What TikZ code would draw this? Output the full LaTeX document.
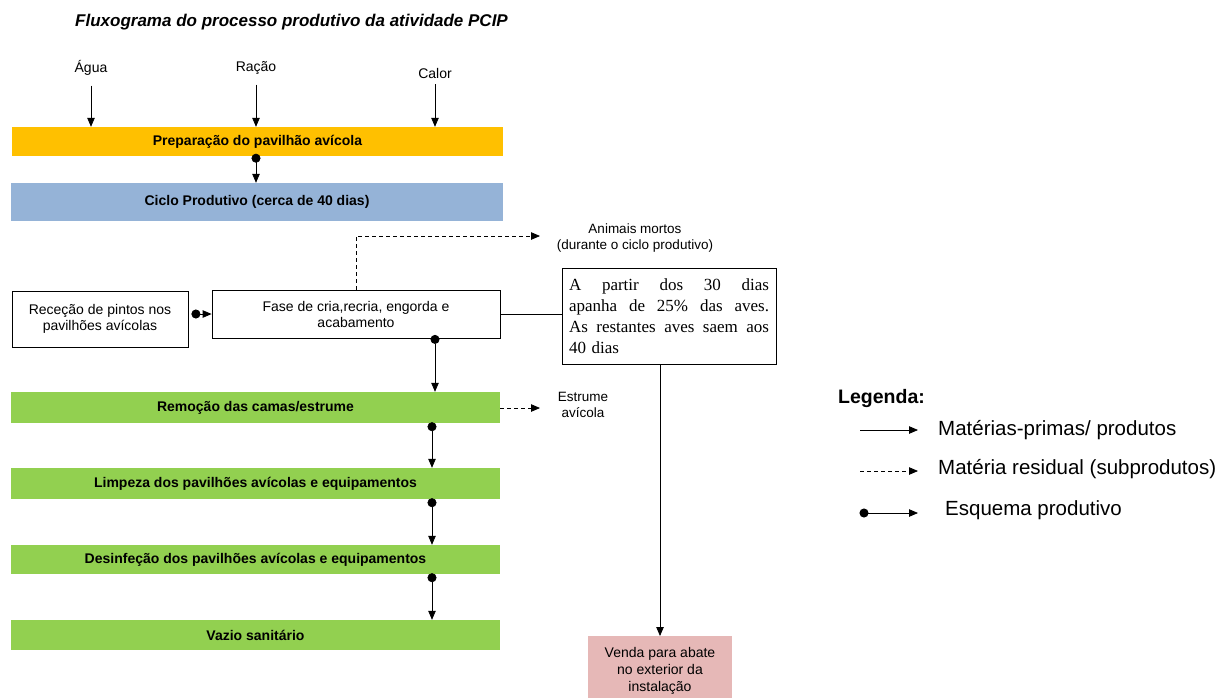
\documentclass[tikz,border=0pt]{standalone}
\usepackage{fontspec}
\setmainfont{Liberation Sans}
\newfontfamily\tnr{Liberation Serif}
\usetikzlibrary{arrows.meta}
\definecolor{cOrange}{HTML}{FFC000}
\definecolor{cBlue}{HTML}{95B3D7}
\definecolor{cGreen}{HTML}{92D050}
\definecolor{cPink}{HTML}{E6B8B7}
\begin{document}
\begin{tikzpicture}[x=1pt,y=-1pt,
  bar/.style={inner sep=0pt, font=\fontsize{14}{16}\selectfont\bfseries},
  gbar/.style={bar, fill=cGreen, minimum width=489pt},
  wbox/.style={draw, line width=0.8pt, align=center, inner sep=0pt, font=\fontsize{14}{16}\selectfont},
  lbl/.style={font=\fontsize{14}{16}\selectfont, inner sep=2pt},
  arr/.style={line width=0.8pt, -{Triangle[length=9pt,width=7.5pt]}},
  res/.style={arr, dash pattern=on 4pt off 3pt},
  prod/.style={line width=0.8pt, {Circle[length=9pt]}-{Triangle[length=9pt,width=7.5pt]}},
  leg/.style={anchor=west, inner sep=0pt, font=\fontsize{20.5}{24}\selectfont}]
\useasboundingbox (0,0) rectangle (1221,697);

% title
\node[anchor=west, inner sep=0pt, font=\fontsize{17}{20}\selectfont\bfseries\itshape] (title) at (75,22) {Fluxograma do processo produtivo da atividade PCIP};

% inputs
\node[lbl] (agua) at (91,68) {Água};
\node[lbl] (racao) at (256,68) {Ração};
\node[lbl] (calor) at (435,73) {Calor};

% bars
\node[bar, fill=cOrange, minimum width=491pt, minimum height=29pt] (prep) at (257.5,141.5) {Preparação do pavilhão avícola};
\node[bar, fill=cBlue, minimum width=492pt, minimum height=38pt] (ciclo) at (257,202) {Ciclo Produtivo (cerca de 40 dias)};

\draw[arr] ([yshift=-8pt]agua.south) -- (agua.south |- prep.north);
\draw[arr] ([yshift=-8pt]racao.south) -- (racao.south |- prep.north);
\draw[arr] ([yshift=-4pt]calor.south) -- (calor.south |- prep.north);
\draw[prod, shorten <=-2.5pt] (prep.south -| racao.south) -- (ciclo.north -| racao.south);

% phase boxes
\node[wbox, minimum width=176pt, minimum height=56pt] (rec) at (100,319) {Receção de pintos nos\\pavilhões avícolas};
\node[wbox, minimum width=288pt, minimum height=48pt] (fase) at (356,314) {Fase de cria,recria, engorda e\\acabamento};
\draw[prod, shorten <=3pt] (rec.east |- fase.east) -- (fase.west);

% dead animals
\node[lbl, align=center, font=\fontsize{13.5}{16}\selectfont] (mortos) at (635,238) {Animais mortos\\(durante o ciclo produtivo)};
\coordinate (mEnd) at (540,236);
\draw[res] (fase.north) |- (mEnd);

% text box
\node[draw, line width=0.8pt, text width=200pt, inner xsep=7pt, inner ysep=0pt, minimum height=96pt, align=left,
      font=\tnr\fontsize{17}{21}\selectfont] (tb) at (669,316)
  {\makebox[200pt][l]{A\hfill partir\hfill dos\hfill 30\hfill dias}\\
   \makebox[200pt][l]{apanha\hfill de\hfill 25\%\hfill das\hfill aves.}\\
   \makebox[200pt][l]{As\hfill restantes\hfill aves\hfill saem\hfill aos}\\
   40 dias};
\draw[line width=0.8pt] (fase.east) -- (fase.east -| tb.west);

% sale
\node[fill=cPink, minimum width=144pt, minimum height=70pt, anchor=north, align=center, inner sep=0pt,
      font=\fontsize{14}{17}\selectfont] (venda) at (660,636) {Venda para abate\\no exterior da\\instalação};
\draw[arr] (venda.north |- tb.south) -- (venda.north);

% green bars
\node[gbar, minimum height=31pt] (g1) at (255.5,407.5) {Remoção das camas/estrume};
\node[gbar, minimum height=31pt] (g2) at (255.5,483.5) {Limpeza dos pavilhões avícolas e equipamentos};
\node[gbar, minimum height=29pt] (g3) at (255.5,559.5) {Desinfeção dos pavilhões avícolas e equipamentos};
\node[gbar, minimum height=30pt] (g4) at (255.5,635) {Vazio sanitário};

\coordinate (cx1) at (435,0);
\coordinate (cx2) at (432,0);
\draw[prod, shorten <=-3.5pt] (fase.south -| cx1) -- (g1.north -| cx1);
\draw[prod, shorten <=-1pt] (g1.south -| cx2) -- (g2.north -| cx2);
\draw[prod, shorten <=-1pt] (g2.south -| cx2) -- (g3.north -| cx2);
\draw[prod, shorten <=-1pt] (g3.south -| cx2) -- (g4.north -| cx2);

% manure
\node[lbl, align=center, font=\fontsize{13.5}{16}\selectfont] (estr) at (583,405) {Estrume\\avícola};
\coordinate (eEnd) at (540,408);
\draw[res] (g1.east |- eEnd) -- (eEnd);

% legend
\node[leg, font=\fontsize{19.5}{22}\selectfont\bfseries] (legt) at (838,398) {Legenda:};
\coordinate (l1a) at (860,430); \coordinate (l1b) at (918,430);
\coordinate (l2a) at (860,471); \coordinate (l2b) at (918,471);
\coordinate (l3a) at (864,513); \coordinate (l3b) at (918,513);
\draw[arr] (l1a) -- (l1b);
\draw[res] (l2a) -- (l2b);
\draw[prod, shorten <=-4.5pt] (l3a) -- (l3b);
\node[leg] (leg1) at (938,430) {Matérias-primas/ produtos};
\node[leg] (leg2) at (938,469) {Matéria residual (subprodutos)};
\node[leg] (leg3) at (945,510) {Esquema produtivo};
\end{tikzpicture}
\end{document}
